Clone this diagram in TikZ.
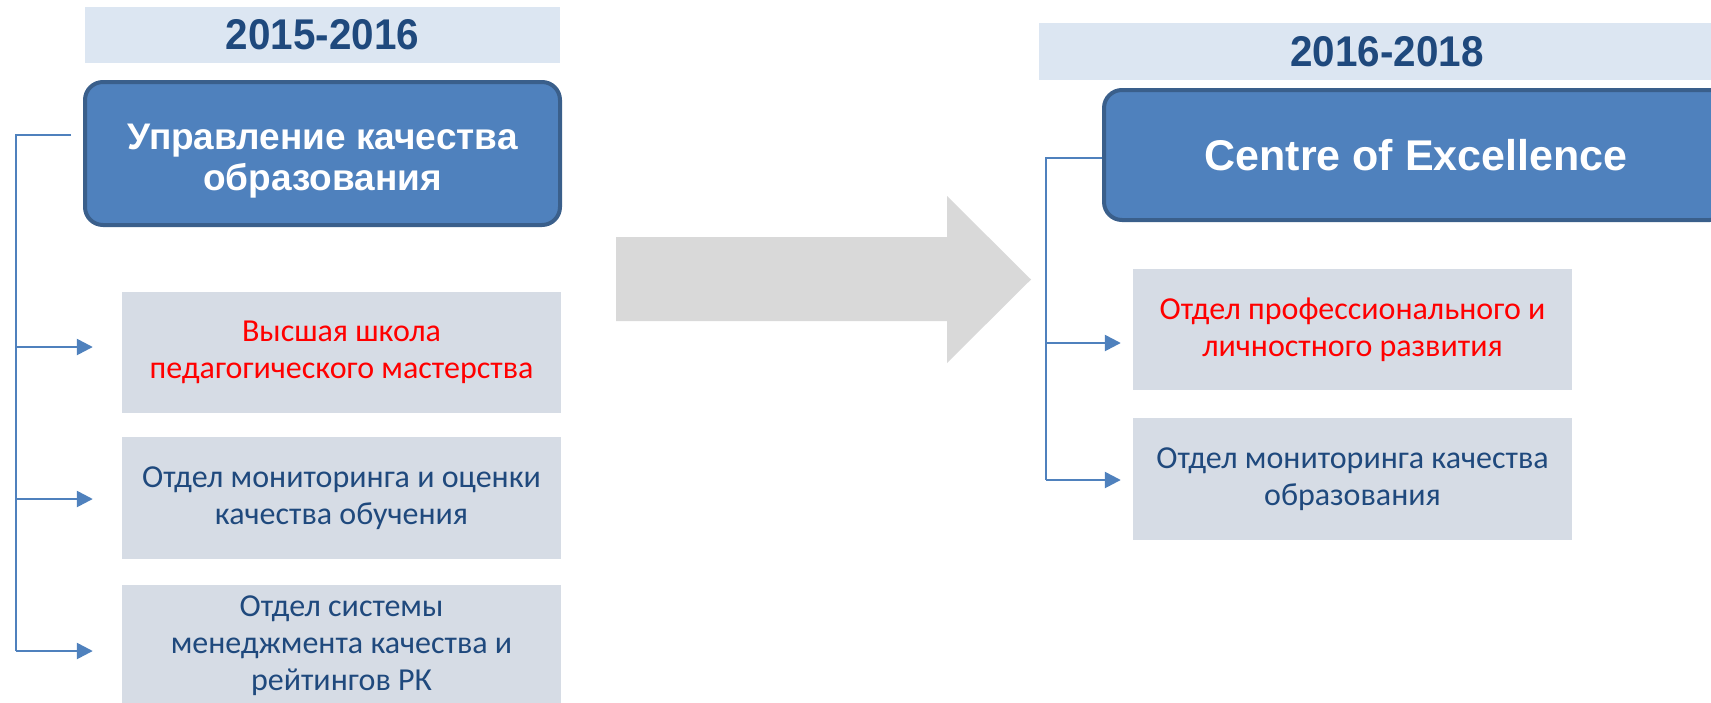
\documentclass[tikz,border=0pt]{standalone}
\usepackage{fontspec}
\setmainfont{Liberation Sans}
\newfontfamily\deptfont{Carlito}
\newfontfamily\yearfont[FakeStretch=0.94]{Liberation Sans}
\usetikzlibrary{arrows.meta}

\definecolor{yearfill}{HTML}{DCE6F2}
\definecolor{yeartext}{HTML}{1F497D}
\definecolor{unitfill}{HTML}{4F81BD}
\definecolor{unitline}{HTML}{3A5F8B}
\definecolor{deptfill}{HTML}{D6DCE5}
\definecolor{depttext}{HTML}{1F497D}
\definecolor{shiftgray}{HTML}{D9D9D9}

\begin{document}
\begin{tikzpicture}[x=1pt,y=-1pt,
  year/.style={fill=yearfill,text=yeartext,inner sep=0pt,
    font=\yearfont\bfseries\fontsize{43}{50}\selectfont},
  unit/.style={fill=unitfill,draw=unitline,line width=4pt,rounded corners=18pt,
    text=white,align=center,inner sep=0pt,font=\bfseries\fontsize{37}{41}\selectfont},
  dept/.style={fill=deptfill,text=depttext,align=center,inner sep=0pt,
    minimum width=439pt,font=\deptfont\fontsize{32}{37}\selectfont},
  conn/.style={draw=unitfill,line width=2.5pt},
  tip/.style={-{Triangle[length=16pt,width=16pt]}}]
\useasboundingbox (0,0) rectangle (1711,702);
\clip (0,0) rectangle (1711,702);

% 2015-2016
\node[year,minimum width=475pt,minimum height=56pt] (year1) at (322.5,35) {2015-2016};
\node[unit,minimum width=475pt,minimum height=143pt] (quality) at (322.5,153.5)
  {\rule{0pt}{40pt}Управление качества\\образования};
\node[dept,minimum height=121pt,text=red] (school) at (341.5,352.5)
  {Высшая школа\\педагогического мастерства};
\node[dept,minimum height=122pt] (monitor) at (341.5,498)
  {Отдел мониторинга и оценки\\качества обучения};
\node[dept,minimum height=122pt] (system) at (341.5,646)
  {Отдел системы\\менеджмента качества и\\рейтингов РК};

% transition
\fill[shiftgray] (616,237) -- (947,237) -- (947,196) -- (1031,279.5)
  -- (947,363) -- (947,321) -- (616,321) -- cycle;

% 2016-2018
\node[year,minimum width=696pt,minimum height=57pt] (year2) at (1387,51.5) {2016-2018};
\node[unit,minimum width=624pt,minimum height=130pt,
  font=\bfseries\fontsize{43}{50}\selectfont] (excel) at (1416,155) {Centre of Excellence};
\node[dept,minimum height=121pt,text=red] (growth) at (1352.5,329.5)
  {Отдел профессионального и\\личностного развития};
\node[dept,minimum height=122pt] (control) at (1352.5,479)
  {Отдел мониторинга качества\\образования};

% left tree
\coordinate (ltop) at (16,135);
\coordinate (l1) at (16,347);
\coordinate (l2) at (16,499);
\coordinate (l3) at (16,651);
\draw[conn] ([xshift=-12pt,yshift=18.5pt]quality.west) -- (ltop) -- (l3);
\draw[conn,tip,shorten >=29pt] (l1) -- (l1 -| school.west);
\draw[conn,tip,shorten >=29pt] (l2) -- (l2 -| monitor.west);
\draw[conn,tip,shorten >=29pt] (l3) -- (l3 -| system.west);

% right tree
\coordinate (rtop) at (1046,158);
\coordinate (r1) at (1046,343);
\coordinate (r2) at (1046,480);
\draw[conn] (excel.west |- rtop) -- (rtop) -- (r2);
\draw[conn,tip,shorten >=12pt] (r1) -- (r1 -| growth.west);
\draw[conn,tip,shorten >=12pt] (r2) -- (r2 -| control.west);
\end{tikzpicture}
\end{document}
